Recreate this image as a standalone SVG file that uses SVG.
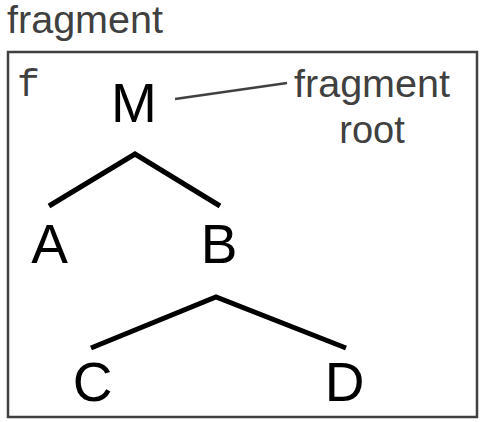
<svg xmlns="http://www.w3.org/2000/svg" width="482" height="422" viewBox="0 0 482 422">
<style>
.lbl{font-family:"Liberation Sans",Arial,sans-serif;font-size:38px;fill:#404040}
.node{font-family:"Liberation Sans",Arial,sans-serif;font-size:55px;fill:#000;text-anchor:middle}
.edge{stroke:#000;stroke-width:5;fill:none}
</style>
<rect width="482" height="422" fill="#fff"/>
<g id="frame">
<text class="lbl" x="7" y="33" textLength="156" lengthAdjust="spacingAndGlyphs">fragment</text>
<rect x="8" y="52" width="469" height="365" fill="none" stroke="#404040" stroke-width="2.5"/>
<text x="17" y="96" font-family="Liberation Mono,Courier New,monospace" font-size="38" fill="#404040">f</text>
</g>
<g id="label">
<text class="lbl" x="372" y="97" text-anchor="middle" textLength="156" lengthAdjust="spacingAndGlyphs">fragment</text>
<text class="lbl" x="372" y="143" text-anchor="middle">root</text>
</g>
<g id="n-M"><text class="node" x="134" y="122">M</text></g>
<g id="n-A"><text class="node" x="49.5" y="263">A</text></g>
<g id="n-B"><text class="node" x="219" y="263">B</text></g>
<g id="n-C"><text class="node" x="92.5" y="401">C</text></g>
<g id="n-D"><text class="node" x="344.5" y="401">D</text></g>
<g id="connectors">
<line x1="175" y1="99" x2="287" y2="83" stroke="#404040" stroke-width="2.5"/>
<polyline class="edge" points="49,206 135,154 220,206"/>
<polyline class="edge" points="91,348 216,297 346,348"/>
</g>
</svg>
